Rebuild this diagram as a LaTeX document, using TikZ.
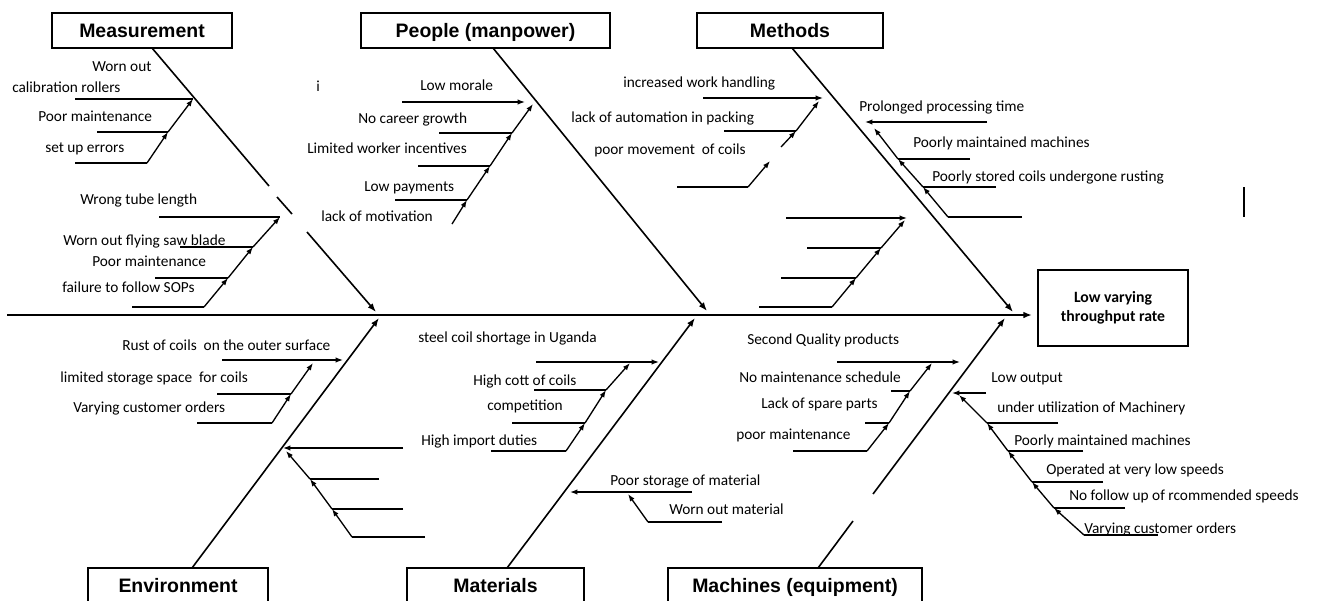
\documentclass[tikz,border=0pt]{standalone}
\usepackage{fontspec}
\setmainfont{Carlito}
\newfontfamily\headfont{Liberation Sans}
\usetikzlibrary{arrows.meta}

\tikzset{
  lbl/.style={anchor=west, inner sep=0pt, font=\fontsize{11.5}{13}\selectfont,
              text height=8pt, text depth=1pt},
  catbox/.style={draw, line width=2pt, inner sep=0pt, minimum height=26.25pt,
                 text height=11pt, text depth=0.6pt,
                 font=\headfont\bfseries\fontsize{14.6}{17}\selectfont},
  effbox/.style={draw, line width=1.1pt, inner sep=0pt, align=center,
                 font=\bfseries\fontsize{11.8}{14.25}\selectfont},
  spine/.style={line width=1.5pt, -{Latex[length=6.5pt,width=5pt]}},
  bone/.style={line width=1.2pt},
  bonetip/.style={line width=1.2pt, -{Latex[length=6.5pt,width=4.8pt]}},
  sub/.style={line width=1pt},
  subtip/.style={line width=1pt, -{Latex[length=5.5pt,width=4pt]}},
}

\begin{document}
\begin{tikzpicture}[x=0.75pt,y=-0.75pt]
\clip (0,0) rectangle (1317,600);
\fill[white] (0,0) rectangle (1317,600);

% ---------- category boxes and effect ----------
\node[catbox, minimum width=135pt]    (meas)  at (142,30.5)  {Measurement};
\node[catbox, minimum width=186.75pt] (peop)  at (485.5,30.5) {People (manpower)};
\node[catbox, minimum width=139.5pt]  (meth)  at (790,30.5)  {Methods};
\node[catbox, minimum width=135pt]    (envi)  at (178,585.5) {Environment};
\node[catbox, minimum width=132.75pt] (mate)  at (495.5,585.5) {Materials};
\node[catbox, minimum width=190.5pt]  (mach)  at (795,585.5) {Machines (equipment)};
\node[effbox, minimum width=112.5pt, minimum height=57pt] (effect) at (1113,308)
     {Low varying\\throughput rate};

% ---------- spine ----------
\coordinate (S0) at (7,315);
\coordinate (S1) at (1032,315);
\draw[spine] (S0) -- (S1);

% ---------- main bones ----------
\coordinate (mA) at (152,48);  \coordinate (mB) at (269,186);
\coordinate (mC) at (277,197); \coordinate (mD) at (292,214);
\coordinate (mE) at (307,232); \coordinate (mF) at (376,312);
\draw[bone] (mA) -- (mB);
\draw[bone] (mC) -- (mD);
\draw[bonetip] (mE) -- (mF);

\coordinate (pA) at (493,48);  \coordinate (pF) at (707,311);
\draw[bonetip] (pA) -- (pF);

\coordinate (tA) at (792,48);  \coordinate (tF) at (1013,312);
\draw[bonetip] (tA) -- (tF);

\coordinate (eA) at (192,568); \coordinate (eF) at (379,318);
\draw[bonetip] (eA) -- (eF);

\coordinate (gA) at (507,568); \coordinate (gF) at (695,318);
\draw[bonetip] (gA) -- (gF);

\coordinate (kA) at (818,568); \coordinate (kB) at (853,521);
\coordinate (kC) at (873,494); \coordinate (kF) at (1005,318);
\draw[bone] (kA) -- (kB);
\draw[bonetip] (kC) -- (kF);

% ---------- Measurement: upper group ----------
\node[lbl] (m1t) at (92,67)  {Worn out};
\node[lbl] (m1u) at (12,88)  {calibration rollers};
\node[lbl] (m2t) at (38,117) {Poor maintenance};
\node[lbl] (m3t) at (45,148) {set up errors};
\coordinate (a1s) at (75,99);  \coordinate (a1e) at (193,99);
\coordinate (a2s) at (97,132); \coordinate (a2e) at (168,132);
\coordinate (a3s) at (75,163); \coordinate (a3e) at (147,163);
\draw[sub] (a1s) -- (a1e);
\draw[sub] (a2s) -- (a2e);
\draw[sub] (a3s) -- (a3e);
\draw[subtip] (a3e) -- (a2e);
\draw[subtip] (a2e) -- (a1e);

% ---------- Measurement: lower group ----------
\node[lbl] (m4t) at (80,200) {Wrong tube length};
\node[lbl] (m5t) at (63,241) {Worn out flying saw blade};
\node[lbl] (m6t) at (92,262) {Poor maintenance};
\node[lbl] (m7t) at (62,288) {failure to follow SOPs};
\coordinate (b1s) at (159,217); \coordinate (b1e) at (280,217);
\coordinate (b2s) at (180,247); \coordinate (b2e) at (253,247);
\coordinate (b3s) at (155,278); \coordinate (b3e) at (228,278);
\coordinate (b4s) at (132,307); \coordinate (b4e) at (204,307);
\draw[sub] (b1s) -- (b1e);
\draw[sub] (b2s) -- (b2e);
\draw[sub] (b3s) -- (b3e);
\draw[sub] (b4s) -- (b4e);
\draw[subtip] (b4e) -- (b3e);
\draw[subtip] (b3e) -- (b2e);
\draw[subtip] (b2e) -- (b1e);

% ---------- People ----------
\node[lbl] (pi)  at (316,87)  {i};
\node[lbl] (p1t) at (420,86)  {Low morale};
\node[lbl] (p2t) at (358,119) {No career growth};
\node[lbl] (p3t) at (307,149) {Limited worker incentives};
\node[lbl] (p4t) at (364,187) {Low payments};
\node[lbl] (p5t) at (321,217) {lack of motivation};
\coordinate (c1s) at (402,102); \coordinate (c1e) at (525,102);
\coordinate (c2s) at (439,133); \coordinate (c2e) at (512,133);
\coordinate (c3s) at (418,166); \coordinate (c3e) at (490,166);
\coordinate (c4s) at (395,200); \coordinate (c4e) at (467,200);
\coordinate (c5s) at (452,224); \coordinate (c0)  at (533,104);
\draw[subtip] (c1s) -- (c1e);
\draw[sub] (c2s) -- (c2e);
\draw[sub] (c3s) -- (c3e);
\draw[sub] (c4s) -- (c4e);
\draw[subtip] (c5s) -- (c4e);
\draw[subtip] (c4e) -- (c3e);
\draw[subtip] (c3e) -- (c2e);
\draw[subtip] (c2e) -- (c0);

% ---------- Methods: left upper group ----------
\node[lbl] (t1t) at (623,83)  {increased work handling};
\node[lbl] (t2t) at (571,118) {lack of automation in packing};
\node[lbl] (t3t) at (594,150) {poor movement\ \ of coils};
\coordinate (d1s) at (703,98);  \coordinate (d1e) at (823,98);
\coordinate (d2s) at (724,131); \coordinate (d2e) at (796,131);
\coordinate (d3s) at (677,187); \coordinate (d3e) at (748,187);
\coordinate (d3m) at (770,161); \coordinate (d3n) at (781,147);
\coordinate (d0)  at (819,101);
\draw[subtip] (d1s) -- (d1e);
\draw[sub] (d2s) -- (d2e);
\draw[sub] (d3s) -- (d3e);
\draw[subtip] (d3e) -- (d3m);
\draw[subtip] (d3n) -- (d2e);
\draw[subtip] (d2e) -- (d0);

% ---------- Methods: left lower group ----------
\coordinate (r1s) at (786,218); \coordinate (r1e) at (907,218);
\coordinate (r2s) at (807,248); \coordinate (r2e) at (881,248);
\coordinate (r3s) at (781,278); \coordinate (r3e) at (856,278);
\coordinate (r4s) at (759,307); \coordinate (r4e) at (832,307);
\coordinate (r0)  at (905,220);
\draw[subtip] (r1s) -- (r1e);
\draw[sub] (r2s) -- (r2e);
\draw[sub] (r3s) -- (r3e);
\draw[sub] (r4s) -- (r4e);
\draw[subtip] (r4e) -- (r3e);
\draw[subtip] (r3e) -- (r2e);
\draw[subtip] (r2e) -- (r0);

% ---------- Methods: right group ----------
\node[lbl] (t4t) at (859,107) {Prolonged processing time};
\node[lbl] (t5t) at (913,143) {Poorly maintained machines};
\node[lbl] (t6t) at (932,177) {Poorly stored coils undergone rusting};
\coordinate (u1s) at (987,122);  \coordinate (u1e) at (865,122);
\coordinate (u2s) at (970,159);  \coordinate (u2e) at (898,159);
\coordinate (u3s) at (996,187);  \coordinate (u3e) at (923,187);
\coordinate (u4s) at (1022,217); \coordinate (u4e) at (948,217);
\coordinate (u0)  at (874,128);
\draw[subtip] (u1s) -- (u1e);
\draw[sub] (u2s) -- (u2e);
\draw[sub] (u3s) -- (u3e);
\draw[sub] (u4s) -- (u4e);
\draw[subtip] (u4e) -- (u3e);
\draw[subtip] (u3e) -- (u2e);
\draw[subtip] (u2e) -- (u0);
\coordinate (vbarA) at (1244,187); \coordinate (vbarB) at (1244,217);
\draw[line width=1pt] (vbarA) -- (vbarB);

% ---------- Environment: left group ----------
\node[lbl] (e1t) at (122,346) {Rust of coils\ \ on the outer surface};
\node[lbl] (e2t) at (60,378)  {limited storage space\ \ for coils};
\node[lbl] (e3t) at (73,408)  {Varying customer orders};
\coordinate (f1s) at (222,360); \coordinate (f1e) at (343,360);
\coordinate (f2s) at (217,394); \coordinate (f2e) at (291,394);
\coordinate (f3s) at (197,423); \coordinate (f3e) at (272,423);
\coordinate (f0)  at (313,363);
\draw[subtip] (f1s) -- (f1e);
\draw[sub] (f2s) -- (f2e);
\draw[sub] (f3s) -- (f3e);
\draw[subtip] (f3e) -- (f2e);
\draw[subtip] (f2e) -- (f0);

% ---------- Environment: right group ----------
\coordinate (h1s) at (403,448); \coordinate (h1e) at (283,448);
\coordinate (h2s) at (379,479); \coordinate (h2e) at (310,479);
\coordinate (h3s) at (403,509); \coordinate (h3e) at (332,509);
\coordinate (h4s) at (425,537); \coordinate (h4e) at (352,537);
\coordinate (h0)  at (286,451);
\draw[subtip] (h1s) -- (h1e);
\draw[sub] (h2s) -- (h2e);
\draw[sub] (h3s) -- (h3e);
\draw[sub] (h4s) -- (h4e);
\draw[subtip] (h4e) -- (h3e);
\draw[subtip] (h3e) -- (h2e);
\draw[subtip] (h2e) -- (h0);

% ---------- Materials ----------
\node[lbl] (g1t) at (418,338) {steel coil shortage in Uganda};
\node[lbl] (g2t) at (473,381) {High cott of coils};
\node[lbl] (g3t) at (487,406) {competition};
\node[lbl] (g4t) at (421,441) {High import duties};
\coordinate (i1s) at (536,362); \coordinate (i1e) at (659,362);
\coordinate (i2s) at (534,390); \coordinate (i2e) at (606,390);
\coordinate (i3s) at (512,423); \coordinate (i3e) at (585,423);
\coordinate (i4s) at (491,451); \coordinate (i4e) at (566,451);
\coordinate (i0)  at (630,363);
\draw[subtip] (i1s) -- (i1e);
\draw[sub] (i2s) -- (i2e);
\draw[sub] (i3s) -- (i3e);
\draw[sub] (i4s) -- (i4e);
\draw[subtip] (i4e) -- (i3e);
\draw[subtip] (i3e) -- (i2e);
\draw[subtip] (i2e) -- (i0);

\node[lbl] (g5t) at (610,481) {Poor storage of material};
\node[lbl] (g6t) at (669,510) {Worn out material};
\coordinate (j1s) at (692,492); \coordinate (j1e) at (570,492);
\coordinate (j2s) at (722,522); \coordinate (j2e) at (648,522);
\coordinate (j0)  at (628,494);
\draw[subtip] (j1s) -- (j1e);
\draw[sub] (j2s) -- (j2e);
\draw[subtip] (j2e) -- (j0);

% ---------- Machines: left group ----------
\node[lbl] (k1t) at (747,340) {Second Quality products};
\node[lbl] (k2t) at (739,378) {No maintenance schedule};
\node[lbl] (k3t) at (761,404) {Lack of spare parts};
\node[lbl] (k4t) at (736,435) {poor maintenance};
\coordinate (n1s) at (837,362); \coordinate (n1e) at (960,362);
\coordinate (n2s) at (891,391); \coordinate (n2e) at (910,391);
\coordinate (n3s) at (865,423); \coordinate (n3e) at (889,423);
\coordinate (n4s) at (793,451); \coordinate (n4e) at (867,451);
\coordinate (n0)  at (932,363);
\draw[subtip] (n1s) -- (n1e);
\draw[sub] (n2s) -- (n2e);
\draw[sub] (n3s) -- (n3e);
\draw[sub] (n4s) -- (n4e);
\draw[subtip] (n4e) -- (n3e);
\draw[subtip] (n3e) -- (n2e);
\draw[subtip] (n2e) -- (n0);

% ---------- Machines: right group ----------
\node[lbl] (k5t)  at (991,378)  {Low output};
\node[lbl] (k6t)  at (997,408)  {under utilization of Machinery};
\node[lbl] (k7t)  at (1014,441) {Poorly maintained machines};
\node[lbl] (k8t)  at (1046,470) {Operated at very low speeds};
\node[lbl] (k9t)  at (1069,496) {No follow up of rcommended speeds};
\node[lbl] (k10t) at (1084,529) {Varying customer orders};
\coordinate (o1s) at (986,393);  \coordinate (o1e) at (952,393);
\coordinate (o2s) at (1058,423); \coordinate (o2e) at (987,423);
\coordinate (o3s) at (1083,451); \coordinate (o3e) at (1008,451);
\coordinate (o4s) at (1103,482); \coordinate (o4e) at (1032,482);
\coordinate (o5s) at (1125,508); \coordinate (o5e) at (1054,508);
\coordinate (o6s) at (1158,535); \coordinate (o6e) at (1084,535);
\coordinate (o0)  at (959,395);
\draw[subtip] (o1s) -- (o1e);
\draw[sub] (o2s) -- (o2e);
\draw[sub] (o3s) -- (o3e);
\draw[sub] (o4s) -- (o4e);
\draw[sub] (o5s) -- (o5e);
\draw[sub] (o6s) -- (o6e);
\draw[subtip] (o6e) -- (o5e);
\draw[subtip] (o5e) -- (o4e);
\draw[subtip] (o4e) -- (o3e);
\draw[subtip] (o3e) -- (o2e);
\draw[subtip] (o2e) -- (o0);
\end{tikzpicture}
\end{document}
